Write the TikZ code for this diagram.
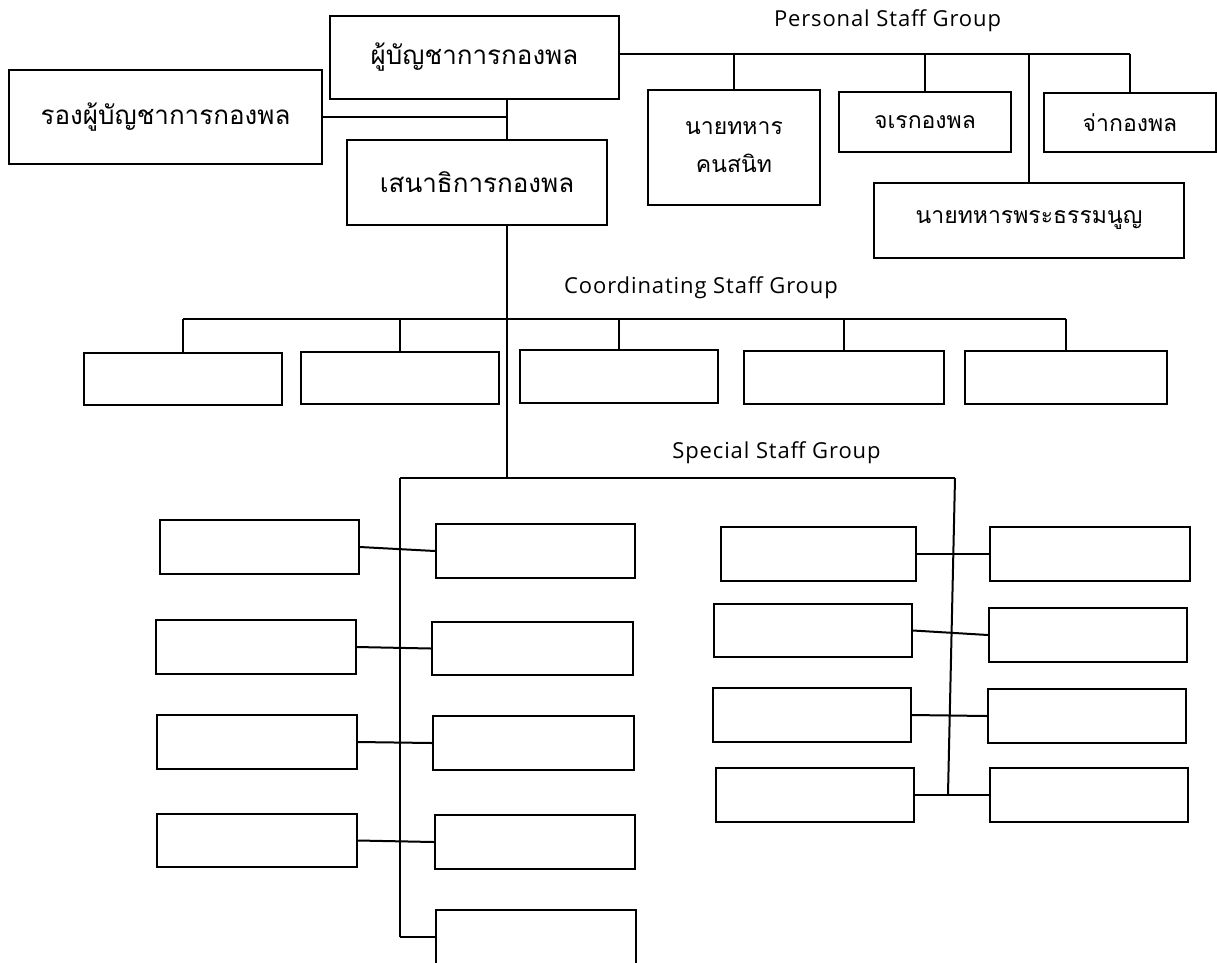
\documentclass[tikz,border=0pt]{standalone}
\usepackage{fontspec}
\setmainfont{Open Sans}[LetterSpace=4]
\newfontfamily\thaifont[Script=Thai]{Loma}
\usetikzlibrary{calc}
\tikzstyle{unit}=[draw,line width=2pt,inner sep=0pt,align=center,font=\thaifont\fontsize{23}{38}\selectfont]
\tikzstyle{bigunit}=[unit,font=\thaifont\fontsize{26}{32}\selectfont]
\tikzstyle{link}=[draw,line width=2pt]
\tikzstyle{group}=[anchor=base,font=\fontsize{22}{26}\selectfont]

\begin{document}
\begin{tikzpicture}[x=1pt,y=-1pt]

    \clip (0,0) rectangle (1217,962);

    \coordinate (spine) at (507,0);
    \coordinate (pbus) at (0,54);
    \coordinate (cbus) at (0,319);
    \coordinate (sbus) at (0,478);

    \node[bigunit, minimum width=289, minimum height=83] (cmd) at (474.5,57.5) {ผู้บัญชาการกองพล};
    \node[bigunit, minimum width=313, minimum height=94] (dep) at (165.5,117) {รองผู้บัญชาการกองพล};
    \node[bigunit, minimum width=260, minimum height=85] (cos) at (477,182.5) {เสนาธิการกองพล};

    \node[unit, minimum width=172, minimum height=115] (aide) at (734,147.5) {นายทหาร\\คนสนิท};
    \node[unit, minimum width=172, minimum height=60] (insp) at (925,122) {จเรกองพล};
    \node[unit, minimum width=172, minimum height=59] (sgm) at (1130,122.5) {จ่ากองพล};
    \node[unit, minimum width=310, minimum height=75] (jag) at (1029,220.5) {นายทหารพระธรรมนูญ};

    \node[group] (personal) at (887.5,26) {Personal Staff Group};
    \node[group] (coord) at (701,293) {Coordinating Staff Group};
    \node[group] (special) at (776.5,458) {Special Staff Group};

    \foreach \pos/\name/\w/\h in {{(183,379)/c1/198/52}, {(400,378)/c2/198/52}, {(619,376.5)/c3/198/53},
        {(844,377.5)/c4/200/53}, {(1066,377.5)/c5/202/53}}
        \node[unit, minimum width=\w, minimum height=\h] (\name) at \pos {};

    \foreach \pos/\name/\w/\h in {{(259.5,547)/la1/199/54}, {(256,647)/la2/200/54},
        {(257,742)/la3/200/54}, {(257,840.5)/la4/200/53},
        {(535.5,551)/lb1/199/54}, {(532.5,648.5)/lb2/201/53}, {(533.5,743)/lb3/201/54},
        {(535,842)/lb4/200/54}, {(536,937)/lb5/200/54}}
        \node[unit, minimum width=\w, minimum height=\h] (\name) at \pos {};

    \foreach \pos/\name/\w/\h in {{(818.5,554)/ra1/195/54}, {(813,630.5)/ra2/198/53},
        {(812,715)/ra3/198/54}, {(815,795)/ra4/198/54},
        {(1090,554)/rb1/200/54}, {(1088,635)/rb2/198/54}, {(1087,716)/rb3/198/54},
        {(1089,795)/rb4/198/54}}
        \node[unit, minimum width=\w, minimum height=\h] (\name) at \pos {};

    \path[link] (cmd.south -| spine) -- (cos.north -| spine);
    \path[link] (dep.east) -- (dep.east -| spine);
    \path[link] (cos.south -| spine) -- (sbus -| spine);

    \path[link] (cmd.east |- pbus) -- (sgm.north |- pbus);
    \foreach \dest in {aide, insp, sgm, jag}
        \path[link] (\dest.north |- pbus) -- (\dest.north);

    \path[link] (c1.north |- cbus) -- (c5.north |- cbus);
    \foreach \dest in {c1, c2, c3, c4, c5}
        \path[link] (\dest.north |- cbus) -- (\dest.north);

    \coordinate (sleft) at (400,478);
    \coordinate (sright) at (955,478);
    \path[link] (sleft) -- (sright);
    \path[link] (sleft) -- (sleft |- lb5.west);
    \path[link] (sright) -- (948,794);
    \foreach \source/\dest in {la1/lb1, la2/lb2, la3/lb3, la4/lb4, ra1/rb1, ra2/rb2, ra3/rb3, ra4/rb4}
        \path[link] (\source.east) -- (\dest.west);
    \path[link] (sleft |- lb5.west) -- (lb5.west);

\end{tikzpicture}
\end{document}
